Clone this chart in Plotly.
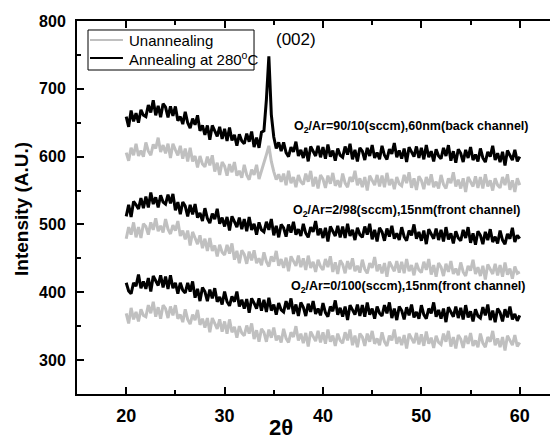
import plotly.graph_objects as go

# scan angles 2-theta (deg), 0.25 deg step from 20 to 60
two_theta = [20 + 0.25 * i for i in range(161)]

# O2/Ar = 90/10, 60 nm (back channel)
annealed_90_10 = [
    659, 644, 668, 652, 664, 650, 669, 661,
    659, 676, 665, 683, 661, 675, 658, 678,
    673, 658, 674, 660, 674, 653, 659, 648,
    666, 650, 642, 656, 647, 661, 638, 646,
    632, 646, 625, 646, 638, 630, 644, 626,
    641, 623, 643, 624, 632, 616, 633, 623,
    619, 634, 622, 637, 614, 628, 613, 636,
    638, 684, 748, 662, 629, 612, 621, 608,
    621, 606, 600, 614, 607, 622, 601, 610,
    598, 613, 593, 615, 608, 601, 616, 599,
    614, 597, 618, 600, 609, 594, 612, 602,
    599, 615, 603, 619, 596, 610, 593, 613,
    608, 595, 613, 601, 617, 598, 606, 596,
    616, 602, 596, 611, 604, 620, 599, 609,
    597, 612, 592, 614, 607, 600, 615, 598,
    613, 596, 617, 599, 608, 593, 611, 601,
    597, 613, 601, 617, 594, 608, 591, 611,
    605, 592, 610, 598, 614, 595, 603, 593,
    612, 598, 592, 607, 600, 616, 595, 605,
    592, 607, 587, 609, 602, 595, 610, 593,
    600,
]
unannealed_90_10 = [
    606, 594, 613, 602, 619, 601, 609, 600,
    621, 608, 602, 618, 612, 628, 607, 617,
    605, 619, 598, 619, 610, 602, 616, 597,
    612, 593, 613, 593, 601, 584, 601, 589,
    585, 600, 587, 602, 578, 591, 573, 592,
    586, 572, 589, 577, 592, 572, 579, 569,
    588, 573, 566, 581, 573, 588, 567, 579,
    588, 603, 616, 593, 578, 566, 574, 563,
    575, 558, 579, 561, 570, 555, 573, 563,
    559, 575, 563, 579, 556, 570, 553, 573,
    567, 554, 572, 560, 576, 557, 565, 555,
    575, 561, 555, 570, 563, 579, 558, 568,
    555, 570, 550, 572, 565, 558, 573, 556,
    572, 555, 576, 558, 567, 552, 570, 560,
    557, 573, 561, 577, 554, 568, 551, 571,
    565, 552, 570, 558, 574, 555, 563, 553,
    573, 559, 553, 568, 561, 577, 556, 566,
    553, 568, 548, 570, 563, 556, 571, 554,
    570, 553, 574, 556, 565, 550, 568, 558,
    554, 570, 558, 574, 551, 565, 548, 568,
    558,
]

# O2/Ar = 2/98, 15 nm (front channel)
annealed_2_98 = [
    512, 529, 511, 534, 529, 523, 539, 524,
    541, 525, 547, 530, 540, 525, 543, 533,
    530, 544, 531, 545, 521, 533, 515, 533,
    527, 512, 529, 515, 530, 510, 517, 505,
    524, 509, 502, 516, 508, 523, 501, 510,
    497, 511, 491, 512, 504, 496, 510, 493,
    508, 490, 511, 492, 501, 485, 503, 492,
    489, 504, 492, 508, 484, 498, 481, 500,
    495, 482, 500, 488, 504, 485, 493, 483,
    501, 487, 481, 496, 489, 505, 484, 494,
    480, 495, 475, 497, 490, 483, 498, 481,
    497, 480, 501, 483, 492, 477, 495, 485,
    481, 497, 485, 501, 478, 492, 475, 495,
    489, 476, 494, 482, 498, 479, 487, 477,
    496, 482, 476, 491, 484, 500, 479, 489,
    476, 491, 471, 493, 486, 479, 494, 477,
    492, 475, 496, 478, 487, 472, 490, 480,
    476, 492, 480, 496, 473, 487, 470, 490,
    484, 471, 489, 477, 493, 474, 482, 472,
    491, 477, 471, 486, 479, 495, 474, 484,
    479,
]
unannealed_2_98 = [
    479, 496, 485, 503, 481, 496, 480, 501,
    497, 485, 503, 492, 509, 490, 498, 488,
    508, 493, 486, 499, 491, 505, 483, 491,
    478, 491, 469, 489, 480, 471, 484, 465,
    479, 461, 480, 461, 469, 453, 470, 459,
    455, 470, 457, 472, 448, 461, 443, 462,
    456, 442, 460, 447, 462, 443, 450, 440,
    459, 445, 438, 453, 445, 461, 439, 449,
    436, 451, 431, 453, 446, 439, 454, 437,
    450, 433, 454, 436, 445, 430, 448, 438,
    433, 449, 437, 453, 430, 444, 427, 447,
    441, 428, 446, 434, 450, 431, 439, 429,
    448, 434, 428, 443, 436, 452, 431, 441,
    428, 443, 423, 445, 438, 431, 446, 429,
    445, 428, 449, 431, 440, 425, 443, 433,
    429, 445, 433, 449, 426, 440, 423, 443,
    437, 424, 442, 430, 446, 427, 435, 425,
    444, 430, 424, 439, 432, 448, 427, 437,
    424, 439, 419, 441, 434, 427, 442, 425,
    440, 423, 444, 426, 435, 420, 438, 428,
    430,
]

# O2/Ar = 0/100, 15 nm (front channel)
annealed_0_100 = [
    414, 402, 398, 414, 409, 426, 406, 416,
    405, 421, 401, 424, 417, 410, 425, 407,
    423, 405, 425, 406, 414, 398, 414, 403,
    399, 414, 401, 416, 392, 405, 387, 407,
    401, 387, 404, 391, 406, 386, 393, 382,
    401, 386, 380, 394, 386, 401, 379, 389,
    376, 390, 370, 391, 384, 376, 391, 373,
    389, 371, 392, 373, 382, 367, 384, 374,
    371, 387, 375, 391, 368, 382, 365, 385,
    378, 365, 383, 371, 387, 368, 376, 366,
    384, 370, 364, 379, 372, 388, 367, 377,
    364, 379, 359, 381, 374, 367, 382, 365,
    381, 364, 385, 367, 376, 361, 379, 369,
    365, 381, 369, 385, 362, 376, 359, 379,
    373, 360, 378, 366, 382, 363, 371, 361,
    381, 367, 361, 376, 369, 385, 364, 374,
    361, 376, 356, 378, 371, 364, 379, 362,
    377, 360, 381, 363, 372, 357, 375, 365,
    362, 378, 366, 382, 359, 373, 356, 376,
    370, 357, 375, 363, 379, 360, 368, 358,
    366,
]
unannealed_0_100 = [
    369, 354, 377, 360, 371, 357, 375, 366,
    364, 381, 369, 386, 364, 378, 361, 381,
    376, 362, 379, 366, 381, 361, 367, 356,
    375, 360, 353, 367, 359, 374, 352, 361,
    348, 362, 341, 362, 354, 346, 360, 342,
    357, 339, 360, 341, 349, 333, 350, 340,
    336, 351, 339, 354, 331, 344, 327, 346,
    341, 327, 345, 333, 348, 329, 336, 326,
    346, 332, 326, 341, 334, 350, 329, 339,
    325, 340, 320, 342, 335, 328, 343, 326,
    341, 324, 345, 327, 336, 321, 339, 329,
    325, 341, 329, 345, 322, 336, 319, 339,
    334, 321, 339, 327, 343, 324, 332, 322,
    341, 327, 321, 336, 329, 345, 324, 334,
    322, 337, 317, 339, 332, 325, 340, 323,
    338, 321, 342, 324, 333, 318, 336, 326,
    323, 339, 327, 343, 320, 334, 317, 337,
    331, 318, 336, 324, 340, 321, 329, 319,
    339, 325, 319, 334, 327, 343, 322, 332,
    319, 334, 314, 336, 329, 322, 337, 320,
    326,
]

legend_names = ["Unannealing", "Annealing at 280<sup>o</sup>C"]
sample_labels = [
    "O<sub>2</sub>/Ar=90/10(sccm),60nm(back channel)",
    "O<sub>2</sub>/Ar=2/98(sccm),15nm(front channel)",
    "O<sub>2</sub>/Ar=0/100(sccm),15nm(front channel)",
]
label_x = [49.0, 48.5, 48.6]
label_y = [644, 520, 408]
peak_label = "(002)"
peak_label_pos = (37.3, 773)
x_title = "2θ"
y_title = "Intensity (A.U.)"

GRAY = "#c0c0c0"
BLACK = "#000000"
FONT = "Liberation Sans, Arial, sans-serif"
LW = 3

fig = go.Figure()
gray_series = [unannealed_90_10, unannealed_2_98, unannealed_0_100]
black_series = [annealed_90_10, annealed_2_98, annealed_0_100]
for ys in gray_series:
    fig.add_trace(go.Scatter(x=two_theta, y=ys, mode="lines",
                             line=dict(color=GRAY, width=LW),
                             name=legend_names[0], showlegend=False))
for ys in black_series:
    fig.add_trace(go.Scatter(x=two_theta, y=ys, mode="lines",
                             line=dict(color=BLACK, width=LW),
                             name=legend_names[1], showlegend=False))

# legend box drawn in paper coordinates
fig.add_shape(type="rect", xref="paper", yref="paper",
              x0=0.0225, x1=0.362, y0=0.8686, y1=0.9759,
              line=dict(color="black", width=1), fillcolor="rgba(0,0,0,0)")
for color, yy, name in [(GRAY, 0.949, legend_names[0]), (BLACK, 0.9008, legend_names[1])]:
    fig.add_shape(type="line", xref="paper", yref="paper",
                  x0=0.0266, x1=0.094, y0=yy, y1=yy,
                  line=dict(color=color, width=2))
    fig.add_annotation(x=0.102, y=yy, xref="paper", yref="paper", text=name,
                       showarrow=False, xanchor="left", yanchor="middle",
                       font=dict(family=FONT, size=15, color="black"))

for txt, xx, yy in zip(sample_labels, label_x, label_y):
    fig.add_annotation(x=xx, y=yy, xref="x", yref="y", text=txt, showarrow=False,
                       font=dict(family=FONT, size=12.5, color="black", weight="bold"))
fig.add_annotation(x=peak_label_pos[0], y=peak_label_pos[1], xref="x", yref="y",
                   text=peak_label, showarrow=False,
                   font=dict(family=FONT, size=17, color="black"))

# axis titles
fig.add_annotation(x=0.418, y=-0.091, xref="paper", yref="paper", text=x_title,
                   showarrow=False, xanchor="center", yanchor="middle",
                   font=dict(family=FONT, size=22, color="black", weight="bold"))
fig.add_annotation(x=-0.1125, y=0.496, xref="paper", yref="paper", text=y_title,
                   showarrow=False, xanchor="center", yanchor="middle", textangle=-90,
                   font=dict(family=FONT, size=19, color="black", weight="bold"))

# the page body adds an 8px offset, so margins are reduced by 8px at top/left
fig.update_layout(
    width=558, height=441,
    margin=dict(l=69, r=0, t=13, b=55),
    paper_bgcolor="white", plot_bgcolor="white",
    font=dict(family=FONT, color="black"),
    showlegend=False,
    xaxis=dict(
        range=[15, 64.7], showgrid=False, zeroline=False, automargin=False,
        showline=True, linecolor="black", linewidth=2, mirror="ticks",
        ticks="inside", ticklen=7, tickwidth=1.5, tickcolor="black",
        tick0=20, dtick=10,
        minor=dict(ticks="inside", ticklen=4, dtick=5, tickcolor="black", tickwidth=1.5),
        tickfont=dict(family=FONT, size=18, color="black", weight="bold"),
        ticklabelstandoff=4,
    ),
    yaxis=dict(
        range=[250, 800], showgrid=False, zeroline=False, automargin=False,
        showline=True, linecolor="black", linewidth=2,
        ticks="inside", ticklen=7, tickwidth=1.5, tickcolor="black",
        tick0=300, dtick=100,
        minor=dict(ticks="inside", ticklen=4, dtick=50, tickcolor="black", tickwidth=1.5),
        tickfont=dict(family=FONT, size=16, color="black", weight="bold"),
        ticklabelstandoff=6,
    ),
)

fig.write_html("out.html")
